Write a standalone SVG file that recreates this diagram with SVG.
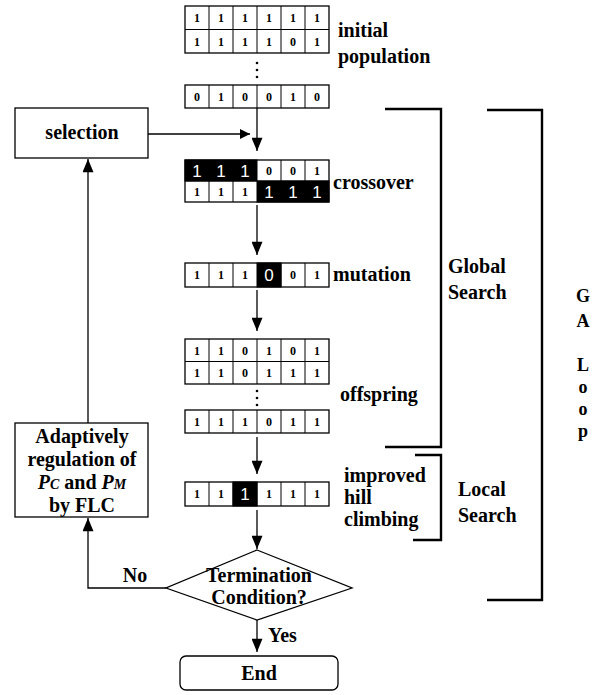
<svg xmlns="http://www.w3.org/2000/svg" width="598" height="695" viewBox="0 0 598 695" font-family="'Liberation Serif', 'Times New Roman', serif">
<defs>
<marker id="ah" viewBox="0 0 10 10" refX="10" refY="5" markerWidth="11" markerHeight="10" markerUnits="userSpaceOnUse" orient="auto">
<path d="M0,0 L10,5 L0,10 z" fill="#000"/>
</marker>
<marker id="ahb" viewBox="0 0 12 10" refX="12" refY="5" markerWidth="14" markerHeight="11" markerUnits="userSpaceOnUse" orient="auto">
<path d="M0,0 L12,5 L0,10 z" fill="#000"/>
</marker>
</defs>
<style>
.box{fill:#fff;stroke:#000;stroke-width:1.3}
.cell{fill:none;stroke:#000;stroke-width:1}
.blk{fill:#000;stroke:#000;stroke-width:1}
.d{font-weight:bold;font-size:12px;text-anchor:middle;fill:#000}
.w{font-family:'Liberation Sans', Arial, sans-serif;font-size:17px;text-anchor:middle;fill:#fff}
.lbl{font-weight:bold;font-size:20px;fill:#000}
.lblc{font-weight:bold;font-size:20px;fill:#000;text-anchor:middle}
.side{font-weight:bold;font-size:20px;fill:#000}
.ga{font-weight:bold;font-size:18px;fill:#000;text-anchor:middle}
.ln{fill:none;stroke:#000;stroke-width:1.3}
.br{fill:none;stroke:#000;stroke-width:2.4}
</style>

<g id="initial-population">
<rect class="box" x="185" y="6" width="144" height="47"/>
<line class="cell" x1="185" y1="29.5" x2="329" y2="29.5"/>
<path class="cell" d="M209,6V53M233,6V53M257,6V53M281,6V53M305,6V53"/>
<text class="d" y="22"><tspan x="197">1</tspan><tspan x="221">1</tspan><tspan x="245">1</tspan><tspan x="269">1</tspan><tspan x="293">1</tspan><tspan x="317">1</tspan></text>
<text class="d" y="46"><tspan x="197">1</tspan><tspan x="221">1</tspan><tspan x="245">1</tspan><tspan x="269">1</tspan><tspan x="293">0</tspan><tspan x="317">1</tspan></text>
<circle cx="257" cy="63" r="1.3"/><circle cx="257" cy="70" r="1.3"/><circle cx="257" cy="77" r="1.3"/>
<rect class="box" x="185" y="85" width="144" height="23"/>
<path class="cell" d="M209,85V108M233,85V108M257,85V108M281,85V108M305,85V108"/>
<text class="d" y="101"><tspan x="197">0</tspan><tspan x="221">1</tspan><tspan x="245">0</tspan><tspan x="269">0</tspan><tspan x="293">1</tspan><tspan x="317">0</tspan></text>
<text class="lbl" x="338" y="37">initial</text>
<text class="lbl" x="338" y="63">population</text>
</g>

<g id="selection">
<rect class="box" x="15" y="108" width="133" height="50"/>
<text class="lblc" x="82" y="139">selection</text>
</g>

<g id="crossover">
<rect class="box" x="185" y="160" width="144" height="42"/>
<rect class="blk" x="185" y="160" width="72" height="21"/>
<rect class="blk" x="257" y="181" width="72" height="21"/>
<path class="cell" d="M281,160V181M305,160V181M209,181V202M233,181V202M185,181H329"/>
<text class="w" y="177"><tspan x="197">1</tspan><tspan x="221">1</tspan><tspan x="245">1</tspan></text>
<text class="d" y="175"><tspan x="269">0</tspan><tspan x="293">0</tspan><tspan x="317">1</tspan></text>
<text class="d" y="196"><tspan x="197">1</tspan><tspan x="221">1</tspan><tspan x="245">1</tspan></text>
<text class="w" y="198"><tspan x="269">1</tspan><tspan x="293">1</tspan><tspan x="317">1</tspan></text>
<text class="lbl" x="333" y="189">crossover</text>
</g>

<g id="mutation">
<rect class="box" x="185" y="263" width="144" height="24"/>
<rect class="blk" x="257" y="263" width="24" height="24"/>
<path class="cell" d="M209,263V287M233,263V287M281,263V287M305,263V287"/>
<text class="d" y="279"><tspan x="197">1</tspan><tspan x="221">1</tspan><tspan x="245">1</tspan><tspan x="293">0</tspan><tspan x="317">1</tspan></text>
<text class="w" x="269" y="281">0</text>
<text class="lbl" x="333" y="281">mutation</text>
</g>

<g id="offspring">
<rect class="box" x="185" y="339" width="144" height="45"/>
<line class="cell" x1="185" y1="361.5" x2="329" y2="361.5"/>
<path class="cell" d="M209,339V384M233,339V384M257,339V384M281,339V384M305,339V384"/>
<text class="d" y="355"><tspan x="197">1</tspan><tspan x="221">1</tspan><tspan x="245">0</tspan><tspan x="269">1</tspan><tspan x="293">0</tspan><tspan x="317">1</tspan></text>
<text class="d" y="377"><tspan x="197">1</tspan><tspan x="221">1</tspan><tspan x="245">0</tspan><tspan x="269">1</tspan><tspan x="293">1</tspan><tspan x="317">1</tspan></text>
<circle cx="257" cy="391" r="1.3"/><circle cx="257" cy="398" r="1.3"/><circle cx="257" cy="405" r="1.3"/>
<rect class="box" x="185" y="410" width="144" height="23"/>
<path class="cell" d="M209,410V433M233,410V433M257,410V433M281,410V433M305,410V433"/>
<text class="d" y="426"><tspan x="197">1</tspan><tspan x="221">1</tspan><tspan x="245">1</tspan><tspan x="269">0</tspan><tspan x="293">1</tspan><tspan x="317">1</tspan></text>
<text class="lbl" x="340" y="401">offspring</text>
</g>

<g id="hill-climbing">
<rect class="box" x="185" y="482" width="144" height="24"/>
<rect class="blk" x="233" y="482" width="24" height="24"/>
<path class="cell" d="M209,482V506M233,482V506M257,482V506M281,482V506M305,482V506"/>
<text class="d" y="498"><tspan x="197">1</tspan><tspan x="221">1</tspan><tspan x="269">1</tspan><tspan x="293">1</tspan><tspan x="317">1</tspan></text>
<text class="w" x="245" y="500">1</text>
<text class="lbl" x="344" y="482">improved</text>
<text class="lbl" x="344" y="504">hill</text>
<text class="lbl" x="344" y="526">climbing</text>
</g>

<g id="adaptive">
<rect class="box" x="15" y="423" width="133" height="94"/>
<text class="lblc" x="82" y="443">Adaptively</text>
<text class="lblc" x="82" y="466">regulation of</text>
<text class="lblc" x="82" y="489"><tspan font-style="italic">P</tspan><tspan font-style="italic" font-size="14">C</tspan> and <tspan font-style="italic">P</tspan><tspan font-style="italic" font-size="14">M</tspan></text>
<text class="lblc" x="82" y="512">by FLC</text>
</g>

<g id="termination">
<polygon class="box" points="257,550 352,588 257,620 166,588"/>
<text class="lblc" x="259" y="582" font-size="18">Termination</text>
<text class="lblc" x="259" y="604" font-size="18">Condition?</text>
</g>

<g id="end">
<rect class="box" x="180" y="656" width="158" height="34" rx="6"/>
<text class="lblc" x="259" y="680">End</text>
</g>

<g id="global-search">
<path class="br" d="M385,109H441V447H385"/>
<text class="side" x="448" y="273">Global</text>
<text class="side" x="448" y="299">Search</text>
</g>

<g id="local-search">
<path class="br" d="M415,455H441V540H413"/>
<text class="side" x="458" y="496">Local</text>
<text class="side" x="458" y="522">Search</text>
</g>

<g id="ga-loop">
<path class="br" d="M487,110H542V600H487"/>
<text class="ga" x="583" y="302">G</text>
<text class="ga" x="583" y="327">A</text>
<text class="ga" x="583" y="371">L</text>
<text class="ga" x="583" y="393">o</text>
<text class="ga" x="583" y="415">o</text>
<text class="ga" x="583" y="437">p</text>
</g>

<g id="connectors">
<line class="ln" x1="257" y1="108" x2="257" y2="151" marker-end="url(#ahb)"/>
<line class="ln" x1="148" y1="134" x2="250" y2="134" marker-end="url(#ah)"/>
<line class="ln" x1="257" y1="205" x2="257" y2="255" marker-end="url(#ahb)"/>
<line class="ln" x1="257" y1="290" x2="257" y2="331" marker-end="url(#ahb)"/>
<line class="ln" x1="257" y1="437" x2="257" y2="474" marker-end="url(#ahb)"/>
<line class="ln" x1="257" y1="510" x2="257" y2="549" marker-end="url(#ahb)"/>
<line class="ln" x1="257" y1="620" x2="257" y2="652" marker-end="url(#ahb)"/>
<line class="ln" x1="88" y1="423" x2="88" y2="159" marker-end="url(#ahb)"/>
<polyline class="ln" points="166,588 88,588 88,518" marker-end="url(#ahb)"/>
<text class="lblc" x="135" y="582" font-size="18">No</text>
<text class="lbl" x="268" y="642" font-size="18">Yes</text>
</g>
</svg>
